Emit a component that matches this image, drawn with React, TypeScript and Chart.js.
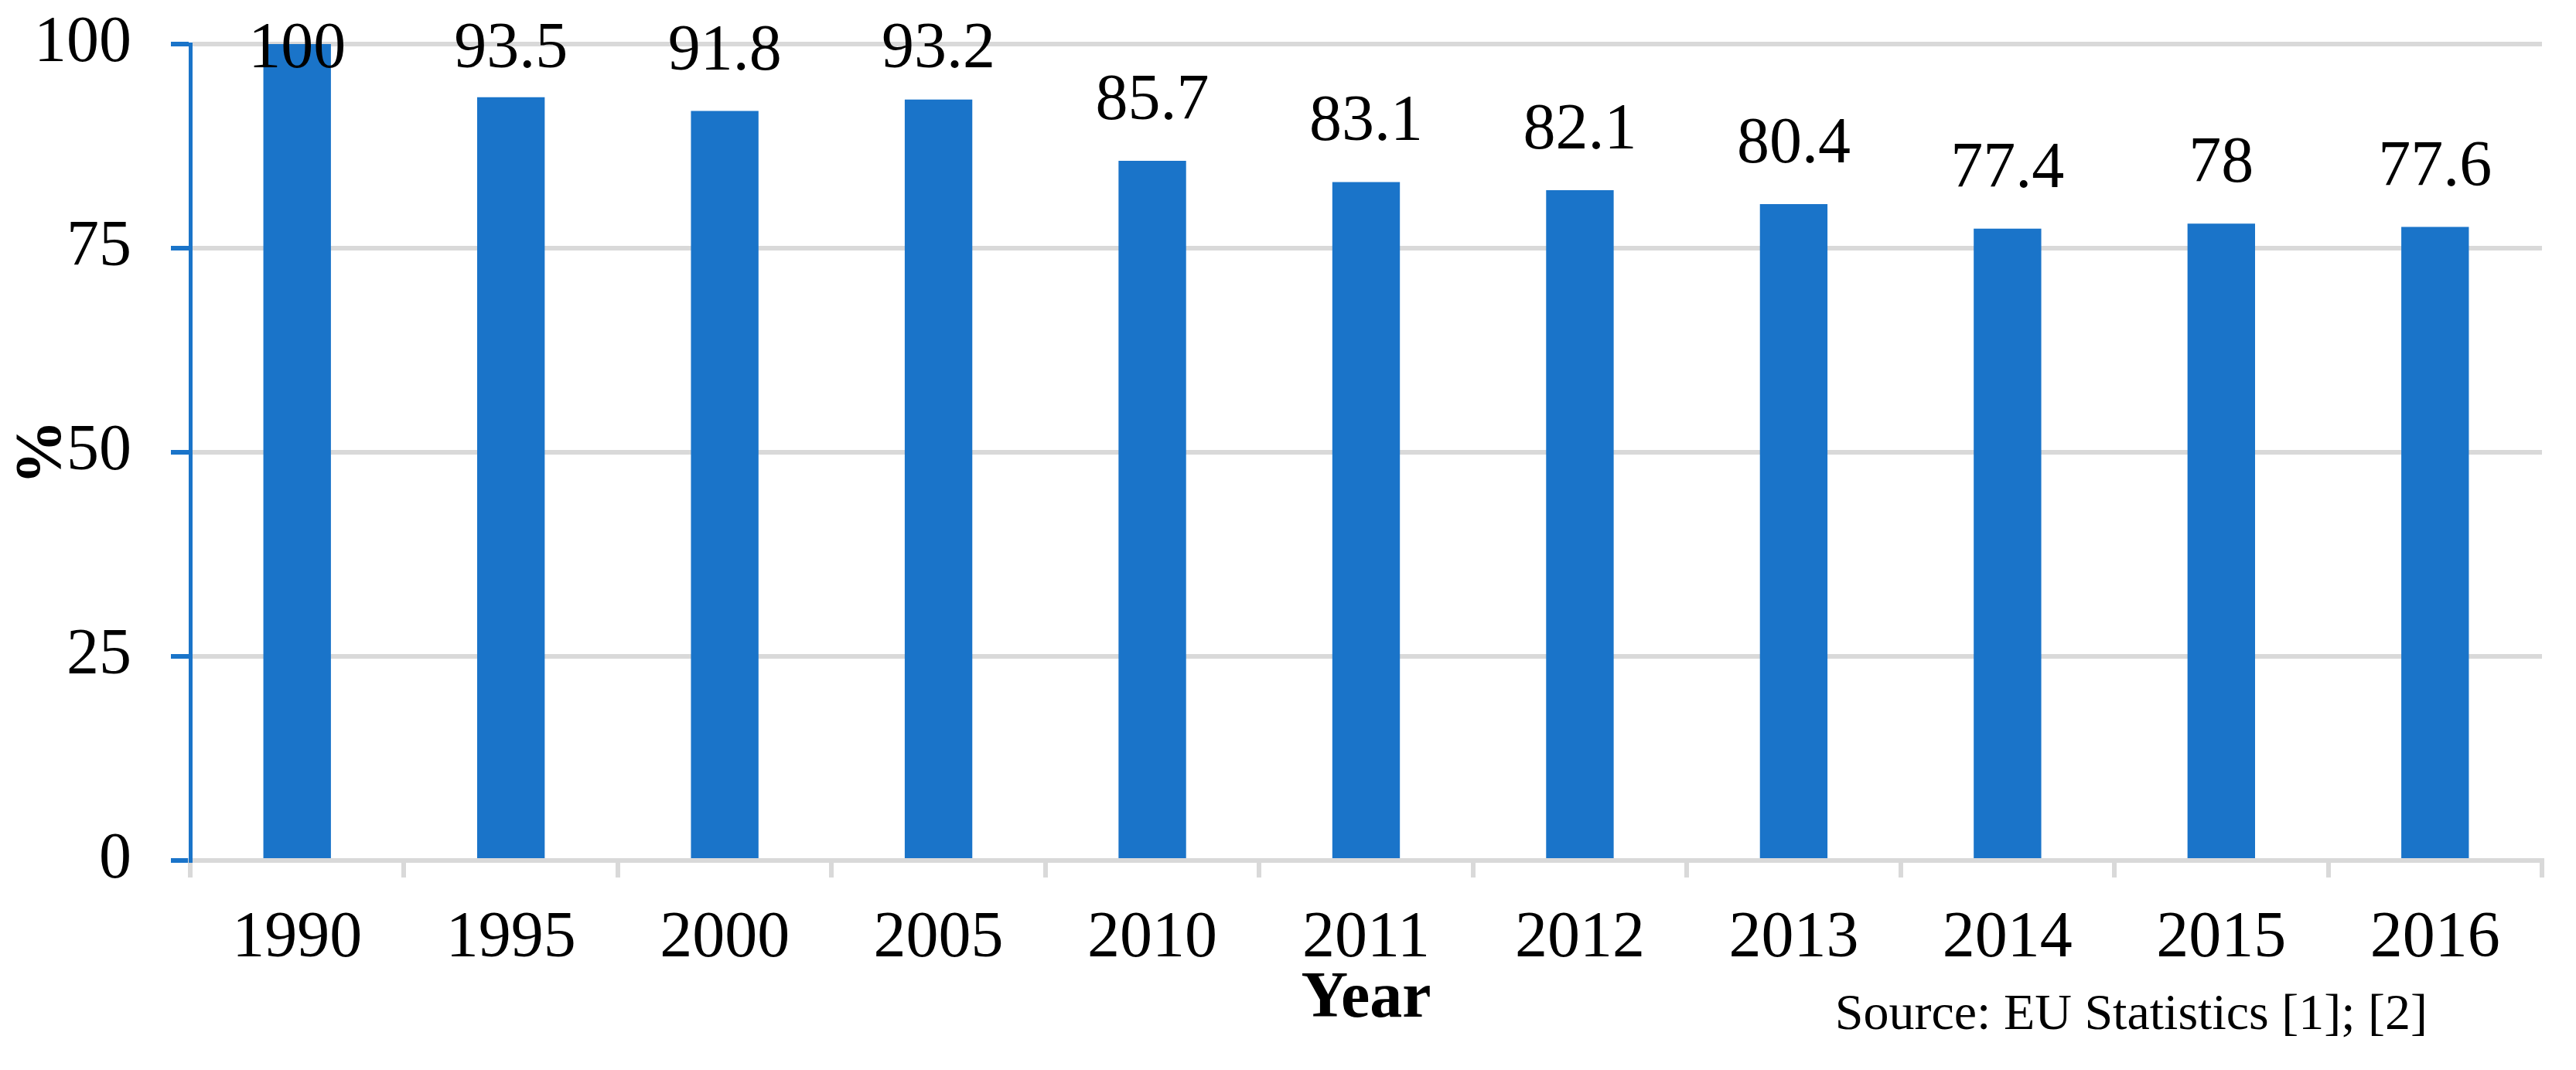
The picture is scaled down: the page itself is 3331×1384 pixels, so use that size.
import React, { useEffect, useRef } from 'react';
import { Chart, registerables } from 'chart.js';

Chart.register(...registerables);

const years = ['1990', '1995', '2000', '2005', '2010', '2011', '2012', '2013', '2014', '2015', '2016'];
const values = [100, 93.5, 91.8, 93.2, 85.7, 83.1, 82.1, 80.4, 77.4, 78, 77.6];
const yTickValues = [0, 25, 50, 75, 100];
const yTitle = '%';
const xTitle = 'Year';
const sourceNote = 'Source: EU Statistics [1]; [2]';

const BLUE = '#1A74C9';
const GRID = '#D9D9D9';
const SERIF = '"Liberation Serif", "Times New Roman", serif';
const W = 3331;
const H = 1384;

const annotate = {
  id: 'annotate',
  afterDatasetsDraw(chart: any) {
    const ctx = chart.ctx;
    const meta = chart.getDatasetMeta(0);
    ctx.save();
    ctx.fillStyle = '#000';
    ctx.font = `84px ${SERIF}`;
    ctx.textAlign = 'center';
    ctx.textBaseline = 'alphabetic';
    meta.data.forEach((bar: any, i: number) => {
      const y = Math.max(bar.y - 54, chart.chartArea.top + 30);
      ctx.fillText(String(values[i]), bar.x, y);
    });
    ctx.restore();
  },
  afterDraw(chart: any) {
    const { ctx, chartArea } = chart;
    ctx.save();
    ctx.fillStyle = '#000';
    ctx.font = `bold 84px ${SERIF}`;
    ctx.textAlign = 'center';
    ctx.textBaseline = 'middle';
    ctx.save();
    ctx.translate(56, (chartArea.top + chartArea.bottom) / 2);
    ctx.rotate(-Math.PI / 2);
    ctx.fillText(yTitle, 0, 0);
    ctx.restore();
    ctx.textBaseline = 'alphabetic';
    ctx.fillText(xTitle, (chartArea.left + chartArea.right) / 2, chartArea.bottom + 202);
    ctx.font = `66px ${SERIF}`;
    ctx.textAlign = 'right';
    ctx.fillText(sourceNote, chartArea.right - 148, chartArea.bottom + 218);
    ctx.restore();
  },
};

export default function App() {
  const ref = useRef<HTMLCanvasElement | null>(null);
  useEffect(() => {
    document.body.style.margin = '0';
    const canvas = ref.current;
    if (!canvas) return;
    const chart = new Chart(canvas, {
      type: 'bar',
      data: {
        labels: years,
        datasets: [
          {
            data: values,
            backgroundColor: BLUE,
            borderWidth: 0,
            barPercentage: 0.316,
            categoryPercentage: 1,
          },
        ],
      },
      options: {
        animation: false,
        responsive: false,
        devicePixelRatio: 1,
        layout: { padding: { top: 57, right: 44, left: 0, bottom: 0 } },
        plugins: { legend: { display: false }, tooltip: { enabled: false } },
        scales: {
          x: {
            afterFit: (s: any) => {
              s.height = H - 1113;
              s.paddingLeft = 0;
              s.paddingRight = 0;
              s.paddingTop = 0;
              s.paddingBottom = 0;
            },
            grid: {
              display: true,
              drawOnChartArea: false,
              drawTicks: true,
              tickLength: 22,
              color: GRID,
              lineWidth: 6,
              offset: true,
            },
            border: { color: GRID, width: 6 },
            ticks: {
              font: { family: SERIF, size: 84 },
              color: '#000',
              padding: 30,
              maxRotation: 0,
              autoSkip: false,
            },
          },
          y: {
            min: 0,
            max: 100,
            afterFit: (s: any) => {
              s.width = 246;
              s.paddingTop = 0;
              s.paddingBottom = 0;
              s.paddingLeft = 0;
              s.paddingRight = 0;
            },
            afterBuildTicks: (s: any) => {
              s.ticks = yTickValues.map((v) => ({ value: v }));
            },
            grid: {
              color: GRID,
              lineWidth: 6,
              tickColor: BLUE,
              tickLength: 25,
              tickWidth: 6,
            },
            border: { color: BLUE, width: 5 },
            ticks: {
              font: { family: SERIF, size: 84 },
              color: '#000',
              padding: 51,
            },
          },
        },
      },
      plugins: [annotate],
    });
    return () => chart.destroy();
  }, []);
  return <canvas ref={ref} width={W} height={H} style={{ display: 'block' }} />;
}
